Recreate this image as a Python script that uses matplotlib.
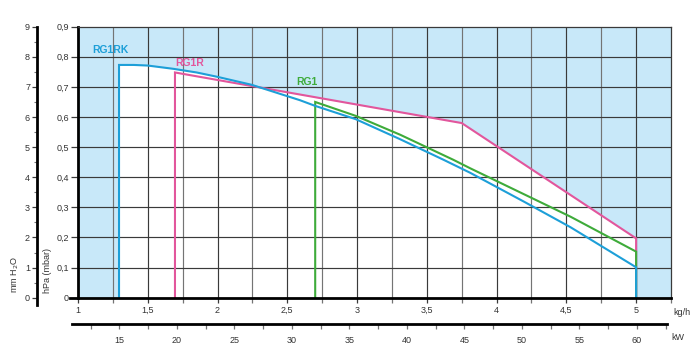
import matplotlib
matplotlib.use("Agg")
import matplotlib.pyplot as plt
import numpy as np
from matplotlib.ticker import MultipleLocator, FuncFormatter

plt.rcParams.update({
    "font.family": ["Liberation Sans", "DejaVu Sans"],
    "font.size": 6.5,
})

# -----------------------
# Data (x in kg/h, y in hPa)
# -----------------------
rg1rk_x = [1.294, 1.294, 1.40, 1.50, 1.685, 1.85, 1.994, 2.245, 2.448, 2.59, 2.70,
           2.99, 3.31, 3.62, 3.81, 4.20, 4.53, 5.0, 5.0]
rg1rk_y = [0.0, 0.773, 0.773, 0.771, 0.760, 0.748, 0.734, 0.707, 0.677, 0.656, 0.637,
           0.593, 0.526, 0.458, 0.415, 0.318, 0.234, 0.101, 0.0]

rg1r_x = [1.695, 1.695, 3.75, 5.0, 5.0]
rg1r_y = [0.0, 0.748, 0.580, 0.197, 0.0]

rg1_x = [2.70, 2.70, 2.99, 3.31, 3.69, 3.81, 4.53, 5.0, 5.0]
rg1_y = [0.0, 0.650, 0.604, 0.541, 0.458, 0.430, 0.269, 0.153, 0.0]

kgh_ticks = [1, 1.5, 2, 2.5, 3, 3.5, 4, 4.5, 5]
kw_ticks = [15, 20, 25, 30, 35, 40, 45, 50, 55, 60]

# colours
bg_blue = "#c8e8f9"
c_blue = "#1d9fd8"
c_pink = "#e2569c"
c_green = "#3eab3a"
grid_dark = "#3a3a3a"
grid_light = "#747474"
txt = "#333333"

W, H = 700, 362
fig = plt.figure(figsize=(7.0, 3.62), dpi=100, facecolor="white")

def fx(px):
    return px / W

def fy(py):
    return (H - py) / H

# main axes: kg/h 1 .. 5.25, hPa 0 .. 0.9
x_left, x_right, y_top, y_bot = 78, 671, 26.7, 297.7
ax = fig.add_axes([fx(x_left), fy(y_bot), fx(x_right) - fx(x_left), fy(y_top) - fy(y_bot)])
ax.set_xlim(1, 5.25)
ax.set_ylim(0, 0.9)
ax.set_facecolor(bg_blue)

# white working field under the upper envelope
xs = np.linspace(1.294, 5.0, 600)
env = np.interp(xs, rg1rk_x[1:-1], rg1rk_y[1:-1])
env = np.maximum(env, np.where(xs >= 1.695, np.interp(xs, rg1r_x[1:-1], rg1r_y[1:-1]), 0))
env = np.maximum(env, np.where(xs >= 2.70, np.interp(xs, rg1_x[1:-1], rg1_y[1:-1]), 0))
ax.fill_between(xs, 0, env, color="white", lw=0, zorder=0.5)

# grid
for gx in np.arange(1.25, 5.01, 0.25):
    dark = abs(gx * 2 - round(gx * 2)) < 1e-6
    ax.axvline(gx, color=grid_dark if dark else grid_light, lw=0.85, zorder=1)
for gy in np.arange(0.1, 0.81, 0.1):
    ax.axhline(gy, color=grid_dark, lw=0.85, zorder=1)

# curves
ax.plot(rg1r_x, rg1r_y, color=c_pink, lw=1.5, zorder=3, solid_joinstyle="miter")
ax.plot(rg1_x, rg1_y, color=c_green, lw=1.5, zorder=3.2, solid_joinstyle="miter")
ax.plot(rg1rk_x, rg1rk_y, color=c_blue, lw=1.5, zorder=3.4, solid_joinstyle="miter")

ax.text(1.235, 0.823, "RG1RK", color=c_blue, fontsize=7.5, fontweight="bold",
        ha="center", va="center", zorder=5)
ax.text(1.80, 0.781, "RG1R", color=c_pink, fontsize=7.5, fontweight="bold",
        ha="center", va="center", zorder=5)
ax.text(2.64, 0.715, "RG1", color=c_green, fontsize=7.5, fontweight="bold",
        ha="center", va="center", zorder=5)

# spines
for side in ["top", "right"]:
    ax.spines[side].set_color(grid_dark)
    ax.spines[side].set_linewidth(0.9)
ax.spines["left"].set_linewidth(2.0)
ax.spines["left"].set_color("black")
ax.spines["bottom"].set_visible(False)
ax.plot([0.943, 5.25], [0, 0], color="black", lw=2.0, clip_on=False, zorder=6)

# x ticks (kg/h)
ax.xaxis.set_major_locator(MultipleLocator(0.5))
ax.xaxis.set_minor_locator(MultipleLocator(0.25))
ax.xaxis.set_major_formatter(FuncFormatter(lambda v, p: ("%g" % v).replace(".", ",")))
ax.tick_params(axis="x", which="both", direction="out", length=3.6, width=0.9,
               color=grid_light, labelcolor=txt, pad=2.5)
ax.tick_params(axis="x", which="major", color=grid_dark)

# y ticks (hPa)
ax.yaxis.set_major_locator(MultipleLocator(0.1))
ax.yaxis.set_major_formatter(FuncFormatter(lambda v, p: ("%.1f" % v).replace(".", ",") if v > 0.001 else "0"))
ax.tick_params(axis="y", which="major", direction="out", length=5, width=0.9,
               color=grid_dark, labelcolor=txt, pad=1.5)

fig.text(fx(682), fy(312.7), "kg/h", color=txt, fontsize=6.5, ha="center", va="center")
fig.text(fx(48), fy(293), "hPa (mbar)", color=txt, fontsize=6.5, rotation=90,
         ha="center", va="bottom")
fig.text(fx(15), fy(293), "mm H$_2$O", color=txt, fontsize=6.5, rotation=90,
         ha="center", va="bottom")

# mm H2O axis
ax_mm = fig.add_axes([fx(36.7), fy(305), 0.0001, fy(y_top) - fy(305)])
ax_mm.set_ylim(-0.243, 9)
ax_mm.set_xticks([])
for side in ["top", "right", "bottom"]:
    ax_mm.spines[side].set_visible(False)
ax_mm.spines["left"].set_linewidth(2.0)
ax_mm.yaxis.set_major_locator(MultipleLocator(1))
ax_mm.yaxis.set_minor_locator(MultipleLocator(0.5))
ax_mm.yaxis.set_major_formatter(FuncFormatter(lambda v, p: "%d" % round(v)))
ax_mm.tick_params(axis="y", which="major", direction="out", length=3.6, width=0.9,
                  color=grid_dark, labelcolor=txt, pad=1.2)
ax_mm.tick_params(axis="y", which="minor", direction="out", length=2.2, width=0.8,
                  color=grid_light)
ax_mm.patch.set_visible(False)

# kW axis
kw_l, kw_r = 71.7, 666.7
ax_kw = fig.add_axes([fx(kw_l), fy(324), fx(kw_r) - fx(kw_l), 0.0001])
ax_kw.set_xlim(10.85, 62.6)
ax_kw.set_yticks([])
for side in ["top", "right", "left"]:
    ax_kw.spines[side].set_visible(False)
ax_kw.spines["bottom"].set_linewidth(2.0)
ax_kw.set_xticks(kw_ticks)
ax_kw.xaxis.set_minor_locator(MultipleLocator(2.5))
ax_kw.tick_params(axis="x", which="both", direction="out", length=3.6, width=0.9,
                  color=grid_light, labelcolor=txt, pad=5)
ax_kw.patch.set_visible(False)
fig.text(fx(678), fy(337.3), "kW", color=txt, fontsize=6.5, ha="center", va="center")

fig.savefig("out.png", dpi=100, facecolor="white")
